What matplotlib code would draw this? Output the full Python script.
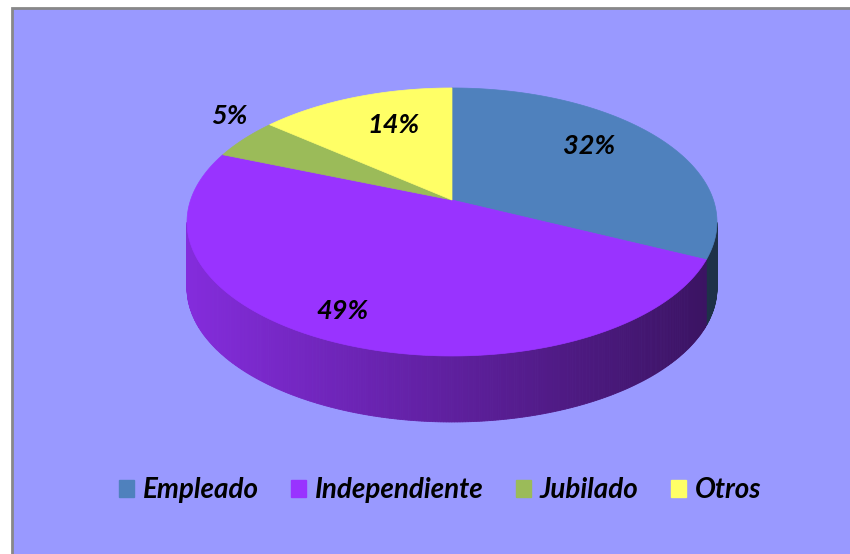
import numpy as np
import matplotlib.pyplot as plt
from matplotlib.patches import Polygon, Rectangle, Patch
from matplotlib.colors import to_rgb

categories = ['Empleado', 'Independiente', 'Jubilado', 'Otros']
shares = [32, 49, 5, 14]
pct_labels = ['32%', '49%', '5%', '14%']
colors = ['#4F81BD', '#9933FF', '#9BBB59', '#FFFF66']

# layout (pixel space)
label_xy = [(589, 146), (342, 311), (229, 116), (394, 125)]
cx, cy = 452, 200          # projected pie centre
A, B, k = 261.4, 130.4, 0.164   # radii and perspective strength
depth = 66
font = dict(family='Lato', weight='bold', style='italic')

fig = plt.figure(figsize=(8.5, 5.54), dpi=100)
ax = fig.add_axes([0, 0, 1, 1])
ax.set_xlim(0, 850)
ax.set_ylim(554, 0)
ax.axis('off')

# chart area background
ax.add_patch(Rectangle((12, 8), 860, 570, facecolor='#9999FF',
                       edgecolor='#888888', lw=2, zorder=0))


def pt(theta, dy=0):
    # point on the rim of the disc, seen with a little perspective
    t = np.radians(theta)
    d = 1 + k * np.sin(t)
    return cx + A * np.cos(t) / d, cy - B * np.sin(t) / d + dy


# slice angles: start at 12 o'clock, go clockwise
total = float(sum(shares))
cum = np.concatenate([[0], np.cumsum(shares)]) / total * 360.0
starts = 90 - cum[:-1]
ends = 90 - cum[1:]

# side walls (only the front part is visible)
for s, e, col in zip(starts, ends, colors):
    base = np.array(to_rgb(col))
    angs = np.linspace(e, s, max(int(abs(s - e) * 2), 2))
    for a0, a1 in zip(angs[:-1], angs[1:]):
        mid = np.radians((a0 + a1) / 2)
        if np.sin(mid) >= -k:
            continue
        x0, y0 = pt(a0)
        x1, y1 = pt(a1)
        f = 0.86 - 0.48 * ((x0 + x1) / 2 - (cx - A)) / (2 * A)
        c = np.clip(base * f, 0, 1)
        quad = [(x0, y0), (x1, y1), (x1, y1 + depth), (x0, y0 + depth)]
        ax.add_patch(Polygon(quad, closed=True, facecolor=c, edgecolor=c,
                             lw=0.6, zorder=2))

# top faces
for s, e, col in zip(starts, ends, colors):
    angs = np.linspace(s, e, 200)
    pts = [(cx, cy)] + [pt(a) for a in angs]
    ax.add_patch(Polygon(pts, closed=True, facecolor=col, edgecolor=col,
                         lw=0.5, zorder=3))

for (x, y), txt in zip(label_xy, pct_labels):
    ax.text(x, y, txt, ha='center', va='center', fontsize=19.5, color='black',
            zorder=5, **font)

handles = [Patch(facecolor=c, edgecolor=c) for c in colors]
ax.legend(handles, categories, loc='center', bbox_to_anchor=(440 / 850, 1 - 490 / 554),
          ncol=4, frameon=False, handlelength=0.55, handleheight=0.55,
          handletextpad=0.32, columnspacing=1.15, borderpad=0,
          prop=dict(family='Lato', weight='bold', style='italic', size=20))

fig.savefig('out.png', dpi=100, facecolor='white')
